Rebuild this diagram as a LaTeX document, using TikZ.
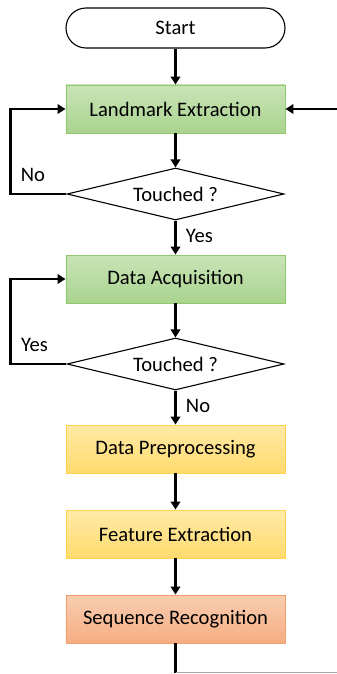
\documentclass[tikz,border=0pt]{standalone}
\usepackage{fontspec}
\setmainfont{Carlito}
\usepackage{xcolor}
\usepackage{tikz}
\usetikzlibrary{shapes,arrows,arrows.meta}

\definecolor{greentop}{HTML}{C9E4B8}
\definecolor{greenbot}{HTML}{A9D38E}
\definecolor{greenline}{HTML}{8FCB6E}
\definecolor{yellowtop}{HTML}{FFEAA6}
\definecolor{yellowbot}{HTML}{FFDB6E}
\definecolor{yellowline}{HTML}{FFD34D}
\definecolor{salmontop}{HTML}{F9CDB0}
\definecolor{salmonbot}{HTML}{F5AD82}
\definecolor{salmonline}{HTML}{F2A070}

\tikzstyle{every node} = [font=\fontsize{20.6}{24}\selectfont]
\tikzstyle{block} = [rectangle, minimum height=48pt, minimum width=219pt, text centered, line width=0.9pt]
\tikzstyle{green block} = [block, draw=greenline, top color=greentop, bottom color=greenbot]
\tikzstyle{yellow block} = [block, draw=yellowline, top color=yellowtop, bottom color=yellowbot]
\tikzstyle{salmon block} = [block, draw=salmonline, top color=salmontop, bottom color=salmonbot]
\tikzstyle{terminal} = [draw, rectangle, rounded corners=20pt, minimum height=40pt, minimum width=219pt, line width=1.1pt]
\tikzstyle{decision} = [draw, diamond, aspect=4, inner sep=0pt, minimum width=217pt, minimum height=52pt, line width=1.1pt]
\tikzstyle{arrow} = [line width=2.3pt,-]
\tikzstyle{arrow1} = [line width=2.3pt,-{Triangle[length=8pt,width=9.5pt]}]

\begin{document}
\begin{tikzpicture}[auto, node distance=85pt]

% Page frame
\coordinate (topleft) at (-175.5pt,28pt);
\coordinate (botright) at (161.5pt,-646pt);
\useasboundingbox (topleft) rectangle (botright);

% Place nodes
\node [terminal](start){Start};
\node [green block, below of=start, yshift=4pt](landmark){Landmark Extraction};
\node [decision, below of=landmark](touch1){Touched ?};
\node [green block, below of=touch1](acquisition){Data Acquisition};
\node [decision, below of=acquisition](touch2){Touched ?};
\node [yellow block, below of=touch2](preprocessing){Data Preprocessing};
\node [yellow block, below of=preprocessing](feature){Feature Extraction};
\node [salmon block, below of=feature](sequence){Sequence Recognition};

% Place lines
\draw [arrow1] (start) -- (landmark);
\draw [arrow1] (landmark) -- (touch1);
\draw [arrow1] (touch1) -- node[right=6pt, pos=0.45](yes1){Yes} (acquisition);
\draw [arrow1] (touch1.west) -- ++(-56pt,0) node[pos=0.6, above=8pt](no1){No} |- (landmark.west);
\draw [arrow1] (acquisition) -- (touch2);
\draw [arrow1] (touch2) -- node[right=6pt, pos=0.45](no2){No} (preprocessing);
\draw [arrow1] (touch2.west) -- ++(-56pt,0) node[pos=0.57, above=8pt](yes2){Yes} |- (acquisition.west);
\draw [arrow1] (preprocessing) -- (feature);
\draw [arrow1] (feature) -- (sequence);
\draw [arrow1] (landmark.east -| botright) -- (landmark.east);
\draw [arrow] (sequence.south) -- ++(0,-29.5pt) coordinate (exit);
\draw [gray!70, line width=1pt] (exit) -- (exit -| botright);

\end{tikzpicture}
\end{document}
